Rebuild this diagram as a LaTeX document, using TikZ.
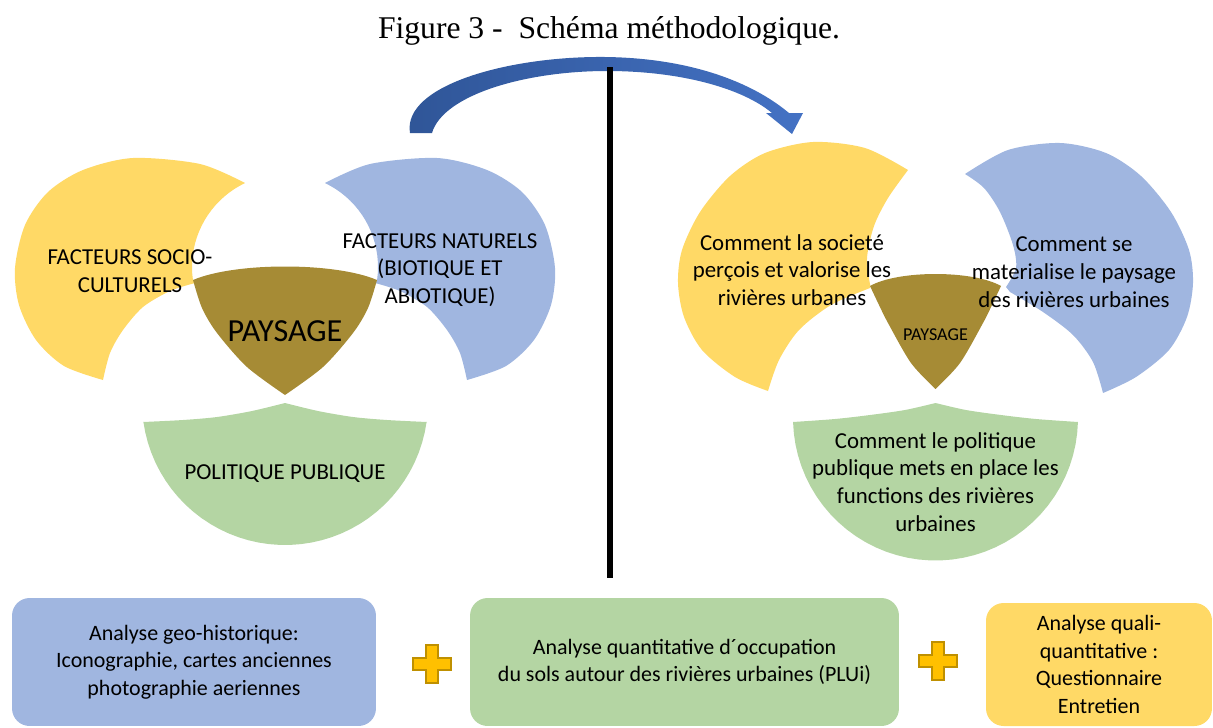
\documentclass[tikz,border=0pt]{standalone}
\usepackage{fontspec}
\setmainfont{Carlito}
\newfontfamily\serifhead{Liberation Serif}
\usepackage{tikz}
\definecolor{vennyellow}{HTML}{FFD966}
\definecolor{vennblue}{HTML}{A0B6E0}
\definecolor{venngreen}{HTML}{B4D5A3}
\definecolor{vennolive}{HTML}{A68B35}
\definecolor{arrowdark}{HTML}{2F5597}
\definecolor{arrowlight}{HTML}{4472C4}
\definecolor{plusfill}{HTML}{FFC000}
\definecolor{plusedge}{HTML}{BF9000}

\begin{document}
\begin{tikzpicture}[
    x=0.02cm, y=-0.02cm,
    venntext/.style={align=center, inner sep=0pt, font=\fontsize{13}{15.8}\selectfont},
    coretext/.style={inner sep=0pt, font=\fontsize{18.3}{20}\selectfont},
    block/.style={rectangle, rounded corners=10pt, align=center, minimum height=2.56cm, font=\fontsize{12.5}{15.6}\selectfont},
    plussign/.style={fill=plusfill, draw=plusedge, line width=0.7pt},
    divider/.style={line width=3.4pt}
]
\useasboundingbox (0,0) rectangle (1213,727);

% title
\node[font=\serifhead\fontsize{18}{22}\selectfont] (title) at (609,31) {Figure 3 -~ Schéma méthodologique.};

% left venn
\fill[vennyellow] plot[smooth] coordinates {(245,183) (200,164) (133,158) (83,170) (48,192) (25,225) (15,268) (19,305) (36,340) (64,366) (103,380)}
  -- plot[smooth] coordinates {(103,380) (110,353) (123,330) (143,307) (170,291) (195,283)}
  -- plot[domain=172:244.5, samples=20] ({285+93*cos(\x)}, {267+93*sin(\x)}) -- cycle;
\fill[vennblue] plot[smooth] coordinates {(325,183) (370,164) (437,158) (487,170) (522,192) (545,225) (555,268) (551,305) (534,340) (506,366) (467,380)}
  -- plot[smooth] coordinates {(467,380) (460,353) (447,330) (427,307) (400,291) (375,283)}
  -- plot[domain=8:-64.5, samples=20] ({285+93*cos(\x)}, {267+93*sin(\x)}) -- cycle;
\fill[venngreen] plot[smooth] coordinates {(143,422) (183,420) (217,417) (252,411) (285,403)}
  -- plot[smooth] coordinates {(285,403) (318,411) (353,417) (387,420) (427,422)}
  -- plot[domain=8:172, samples=40] ({285+143*cos(\x)}, {402+143*sin(\x)}) -- cycle;
\fill[vennolive] (193,280) .. controls (235,262) and (335,262) .. (377,280)
  -- plot[smooth] coordinates {(377,280) (368,308) (353,333) (323,367) (285,395)}
  -- plot[smooth] coordinates {(285,395) (247,367) (217,333) (202,308) (193,280)} -- cycle;

\node[venntext] (socio) at (130,271) {FACTEURS SOCIO-\\CULTURELS};
\node[venntext] (naturel) at (440,270) {FACTEURS NATURELS\\(BIOTIQUE ET\\ABIOTIQUE)};
\node[coretext] (paysageL) at (285,331) {PAYSAGE};
\node[venntext] (politique) at (285,474) {POLITIQUE PUBLIQUE};

% right venn
\fill[vennyellow] plot[smooth] coordinates {(908,170) (865,148) (813,142) (765,153) (730,176) (700,212) (682,250) (678,283) (684,317) (702,350) (735,377) (768,391)}
  -- plot[smooth] coordinates {(768,391) (779,360) (799,330) (831,305) (870,288)}
  -- plot[smooth] coordinates {(870,284) (867,258) (874,226) (888,198) (908,170)} -- cycle;
\fill[vennblue] plot[smooth] coordinates {(965,174) (1008,150) (1060,143) (1106,153) (1141,176) (1171,212) (1189,250) (1193,283) (1187,317) (1169,350) (1136,377) (1103,393)}
  -- plot[smooth] coordinates {(1103,393) (1093,362) (1073,335) (1043,312) (1010,292)}
  -- plot[smooth] coordinates {(1006,287) (1016,268) (1013,245) (1000,212) (984,188) (965,174)} -- cycle;
\fill[venngreen] plot[smooth] coordinates {(793,422) (835,419) (870,415) (905,410) (935.5,403)}
  -- plot[smooth] coordinates {(935.5,403) (966,410) (1001,415) (1036,419) (1078,422)}
  -- plot[domain=1.6:178.4, samples=40] ({935.5+142.5*cos(\x)}, {418+142.5*sin(\x)}) -- cycle;
\fill[vennolive] (870,286) .. controls (898,270) and (973,270) .. (1001,286)
  -- plot[smooth] coordinates {(1001,286) (992,305) (983,323) (960,363) (935.5,389)}
  -- plot[smooth] coordinates {(935.5,389) (911,363) (888,323) (879,305) (870,286)} -- cycle;

\node[venntext] (societe) at (792,270) {Comment la societé\\perçois et valorise les\\rivières urbanes};
\node[venntext] (materialise) at (1074,272) {Comment se\\materialise le paysage\\des rivières urbaines};
\node[inner sep=0pt, font=\fontsize{10.3}{12}\selectfont] (paysageR) at (935.5,335) {PAYSAGE};
\node[venntext] (fonctions) at (935.5,482) {Comment le politique\\publique mets en place les\\functions des rivières\\urbaines};

% curved arrow from left to right
\shade[left color=arrowdark, right color=arrowlight]
  (410,133) .. controls (402,85) and (510,56) .. (605,57)
  .. controls (690,58) and (752,82) .. (789,113)
  -- (803,113) -- (792,134) -- (766,113) -- (772,113)
  .. controls (742,88) and (680,71) .. (607,71)
  .. controls (525,71) and (443,95) .. (432,133) -- cycle;

% separator
\coordinate (divtop) at (610,67);
\coordinate (divbot) at (610,578);
\draw[divider] (divtop) -- (divbot);

% methods
\node[block, fill=vennblue, minimum width=7.28cm] (geo) at (194,662) {Analyse geo-historique:\\Iconographie, cartes anciennes\\photographie aeriennes};
\node[block, fill=venngreen, minimum width=8.58cm] (quanti) at (684.5,662) {Analyse quantitative d´occupation\\du sols autour des rivières urbaines (PLUi)};
\node[block, fill=vennyellow, minimum width=4.52cm, minimum height=2.46cm] (quali) at (1099,664.5) {Analyse quali-\\quantitative :\\Questionnaire\\Entretien};

\foreach \pos in {(432,664), (938,661)}
  \draw[plussign] \pos ++(-6,-19) -- ++(12,0) -- ++(0,13) -- ++(13,0) -- ++(0,12) -- ++(-13,0) -- ++(0,13) -- ++(-12,0) -- ++(0,-13) -- ++(-13,0) -- ++(0,-12) -- ++(13,0) -- cycle;

\end{tikzpicture}
\end{document}
